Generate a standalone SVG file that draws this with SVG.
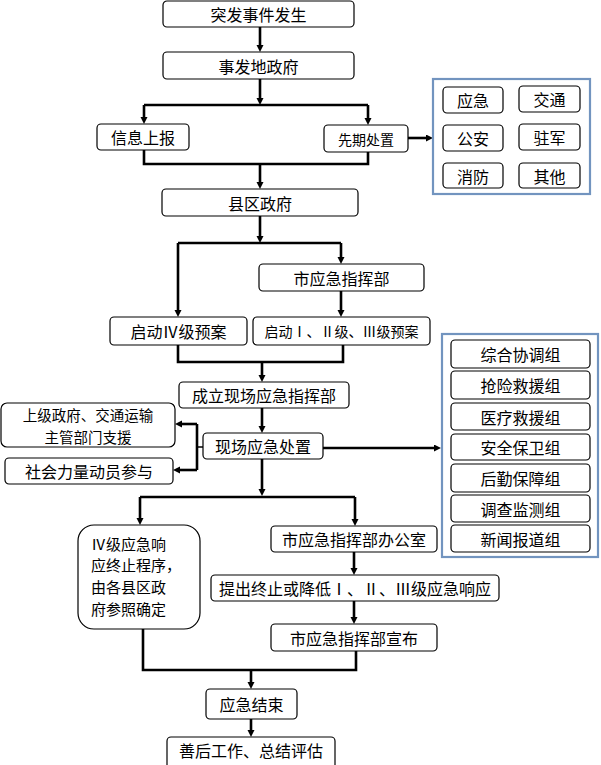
<svg xmlns="http://www.w3.org/2000/svg" width="601" height="765" viewBox="0 0 601 765">
<style>
  .box { fill: #ffffff; stroke: #000000; stroke-width: 1.2; }
  .grp { fill: #ffffff; stroke: #7294bf; stroke-width: 2.2; }
  .t { font-family: "Noto Sans CJK SC", "Noto Sans", sans-serif; font-size: 16px; fill: #000000; text-anchor: middle; dominant-baseline: central; }
  .s { font-size: 14px; }
  .m2 { font-size: 14.5px; }
  .m4 { font-size: 15px; }
  .l { text-anchor: start; }
  .c { fill: none; stroke: #000000; stroke-width: 2.6; }
  .a { marker-end: url(#arr); }
  .thin { fill: none; stroke: #000000; stroke-width: 1.5; }
</style>
<defs>
  <marker id="arr" markerUnits="userSpaceOnUse" markerWidth="8" markerHeight="8" refX="3" refY="3.5" orient="auto">
    <path d="M0,0 L7,3.5 L0,7 z" fill="#000000"/>
  </marker>
</defs>
<rect width="601" height="765" fill="#ffffff"/>

<g id="connectors">
  <path class="c a" d="M260,27 V48"/>
  <path class="c a" d="M260,79 V101"/>
  <path class="c" d="M144,105 H368"/>
  <path class="c a" d="M144,105 V120"/>
  <path class="c a" d="M368,105 V121"/>
  <path class="c" d="M144,150 V164 H368 V152"/>
  <path class="c a" d="M260,164 V185"/>
  <path class="c a" d="M408,138 H429"/>
  <path class="c a" d="M260,216 V239"/>
  <path class="c" d="M178,243 H341"/>
  <path class="c a" d="M341,243 V260"/>
  <path class="c a" d="M178,243 V313"/>
  <path class="c a" d="M341,291 V313"/>
  <path class="c" d="M178,345 V362 H343 V345"/>
  <path class="c a" d="M262,362 V378"/>
  <path class="c a" d="M262,408 V429"/>
  <path class="thin" d="M203,447 H197"/>
  <path class="c" d="M197,424 V470"/>
  <path class="c a" d="M197,424 H179"/>
  <path class="c a" d="M197,470 H177"/>
  <path class="c a" d="M323,448 H437"/>
  <path class="c a" d="M262,459 V492"/>
  <path class="c" d="M140,497 H355"/>
  <path class="c a" d="M140,497 V521"/>
  <path class="c a" d="M355,497 V522"/>
  <path class="c a" d="M354,552 V571"/>
  <path class="c a" d="M354,601 V620"/>
  <path class="c" d="M143,629 V670 H356 V651"/>
  <path class="c a" d="M251,670 V685"/>
  <path class="c a" d="M251,719 V733"/>
</g>

<g id="n1"><rect class="box" x="163" y="1" width="191" height="26" rx="4"/><text class="t" x="258.5" y="14">突发事件发生</text></g>
<g id="n2"><rect class="box" x="163" y="52" width="191" height="27" rx="4"/><text class="t" x="258.5" y="65.5">事发地政府</text></g>
<g id="n3"><rect class="box" x="97" y="124" width="92" height="26" rx="4"/><text class="t" x="143" y="137">信息上报</text></g>
<g id="n4"><rect class="box" x="324" y="125" width="84" height="27" rx="4"/><text class="t s" x="366" y="138.5">先期处置</text></g>

<g id="g1">
  <rect class="grp" x="433" y="79" width="157" height="115"/>
  <rect class="box" x="443" y="87" width="60" height="26" rx="4"/><text class="t" x="473" y="100">应急</text>
  <rect class="box" x="519" y="86" width="61" height="26" rx="4"/><text class="t" x="549.5" y="99">交通</text>
  <rect class="box" x="443" y="125" width="60" height="26" rx="4"/><text class="t" x="473" y="138">公安</text>
  <rect class="box" x="519" y="124" width="61" height="26" rx="4"/><text class="t" x="549.5" y="137">驻军</text>
  <rect class="box" x="443" y="163" width="60" height="25" rx="4"/><text class="t" x="473" y="175.5">消防</text>
  <rect class="box" x="519" y="163" width="61" height="25" rx="4"/><text class="t" x="549.5" y="175.5">其他</text>
</g>

<g id="n5"><rect class="box" x="162" y="189" width="196" height="27" rx="4"/><text class="t" x="260" y="202.5">县区政府</text></g>
<g id="n6"><rect class="box" x="259" y="264" width="165" height="27" rx="4"/><text class="t" x="341.5" y="277.5">市应急指挥部</text></g>
<g id="n7"><rect class="box" x="110" y="317" width="137" height="28" rx="4"/><text class="t" x="178.5" y="331">启动Ⅳ级预案</text></g>
<g id="n8"><rect class="box" x="253" y="317" width="177" height="28" rx="4"/><text class="t s" x="341.5" y="331">启动Ⅰ、Ⅱ级、Ⅲ级预案</text></g>
<g id="n9"><rect class="box" x="179" y="382" width="170" height="26" rx="4"/><text class="t" x="264" y="395">成立现场应急指挥部</text></g>
<g id="n10"><rect class="box" x="1" y="403" width="174" height="44" rx="6"/><text class="t m2" x="88" y="414.4"><tspan x="88" y="414.4">上级政府、交通运输</tspan><tspan x="88" y="435.6">主管部门支援</tspan></text></g>
<g id="n11"><rect class="box" x="5" y="458" width="168" height="26" rx="4"/><text class="t" x="89" y="471">社会力量动员参与</text></g>
<g id="n12"><rect class="box" x="203" y="433" width="120" height="26" rx="4"/><text class="t" x="263" y="446">现场应急处置</text></g>

<g id="g2">
  <rect class="grp" x="442" y="334" width="156" height="223"/>
  <rect class="box" x="451" y="340" width="139" height="28" rx="4"/><text class="t" x="520.5" y="354">综合协调组</text>
  <rect class="box" x="451" y="371" width="139" height="28" rx="4"/><text class="t" x="520.5" y="385">抢险救援组</text>
  <rect class="box" x="451" y="403" width="139" height="27" rx="4"/><text class="t" x="520.5" y="416.5">医疗救援组</text>
  <rect class="box" x="451" y="434" width="139" height="26" rx="4"/><text class="t" x="520.5" y="447">安全保卫组</text>
  <rect class="box" x="451" y="464" width="139" height="28" rx="4"/><text class="t" x="520.5" y="478">后勤保障组</text>
  <rect class="box" x="451" y="495" width="139" height="27" rx="4"/><text class="t" x="520.5" y="508.5">调查监测组</text>
  <rect class="box" x="451" y="525" width="139" height="27" rx="4"/><text class="t" x="520.5" y="538.5">新闻报道组</text>
</g>

<g id="n13"><rect class="box" x="78" y="525" width="122" height="104" rx="16"/>
  <text class="t l m4" x="91" y="542.5"><tspan x="91" y="542.5">Ⅳ级应急响</tspan><tspan x="91" y="564.3">应终止程序，</tspan><tspan x="91" y="586.1">由各县区政</tspan><tspan x="91" y="607.9">府参照确定</tspan></text>
</g>
<g id="n14"><rect class="box" x="271" y="526" width="166" height="26" rx="4"/><text class="t" x="354" y="539">市应急指挥部办公室</text></g>
<g id="n15"><rect class="box" x="211" y="575" width="288" height="26" rx="4"/><text class="t" x="355" y="588">提出终止或降低Ⅰ、Ⅱ、Ⅲ级应急响应</text></g>
<g id="n16"><rect class="box" x="271" y="624" width="166" height="27" rx="4"/><text class="t" x="354" y="637.5">市应急指挥部宣布</text></g>
<g id="n17"><rect class="box" x="206" y="689" width="91" height="30" rx="4"/><text class="t" x="251.5" y="704">应急结束</text></g>
<g id="n18"><rect class="box" x="167" y="737" width="168" height="32" rx="4"/><text class="t" x="251" y="750">善后工作、总结评估</text></g>
</svg>
